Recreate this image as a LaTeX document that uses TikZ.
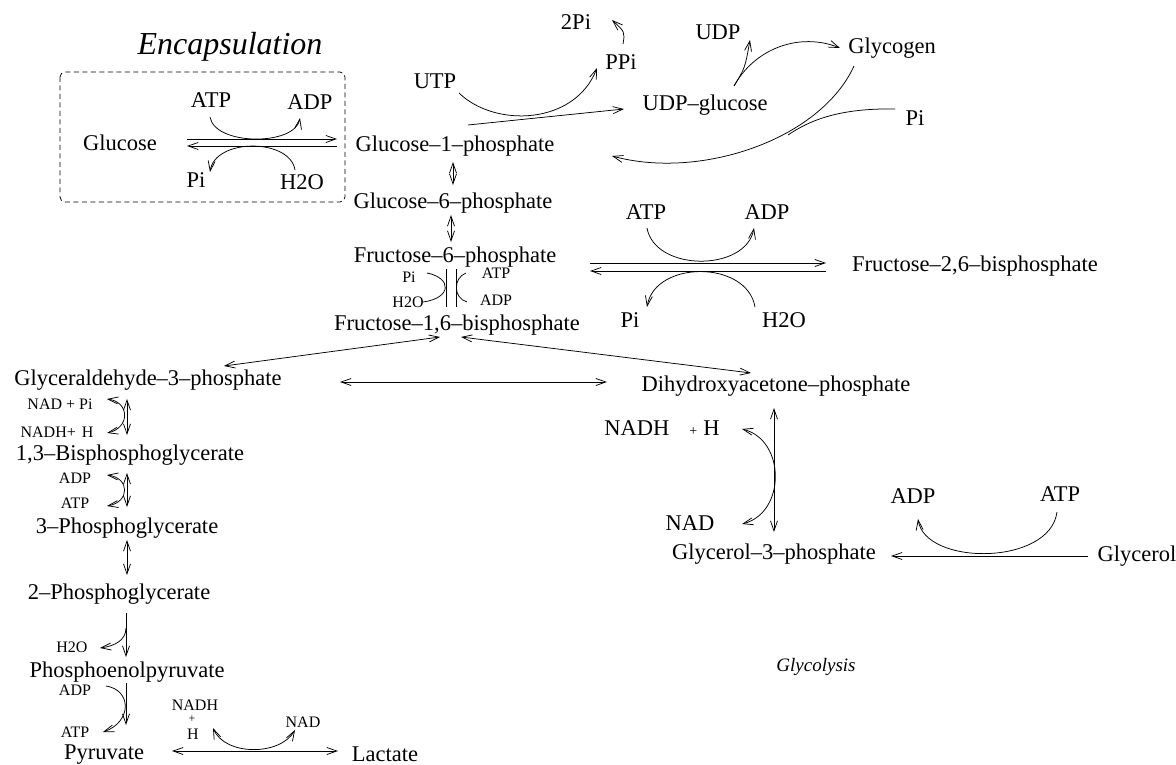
\documentclass[tikz,border=0pt]{standalone}
\usepackage{fontspec}
\setmainfont{Liberation Serif}
\usetikzlibrary{arrows.meta}
\begin{document}
\begin{tikzpicture}[x=1pt,y=-1pt,
  big/.style={inner sep=0pt,font=\fontsize{22.5}{26}\selectfont},
  sml/.style={inner sep=0pt,font=\fontsize{16}{18}\selectfont},
  conn/.style={line width=0.75pt},
  >={Straight Barb[length=10pt,width=7pt]}]
\useasboundingbox (0,0) rectangle (1176,765);

% ---------------- texts ----------------
\node[inner sep=0pt,anchor=base,font=\fontsize{32}{36}\selectfont\itshape] (enc) at (230,55) {Encapsulation};
\node[big] (glc) at (120,143) {Glucose};
\node[big] (atpA) at (211,100) {ATP};
\node[big] (adpA) at (310,102) {ADP};
\node[big] (piA) at (196,180) {Pi};
\node[big] (h2oA) at (302,182) {H2O};
\node[big] (g1p) at (455,146) {Glucose--1--phosphate};
\node[big] (g6p) at (453,203) {Glucose--6--phosphate};
\node[big] (f6p) at (455,257) {Fructose--6--phosphate};
\node[big] (f16) at (457,325) {Fructose--1,6--bisphosphate};
\node[sml] (piB) at (409,277) {Pi};
\node[sml] (h2oB) at (408,302) {H2O};
\node[sml] (atpB) at (496,273) {ATP};
\node[sml] (adpB) at (496,300) {ADP};
\node[big] (f26) at (975,266) {Fructose--2,6--bisphosphate};
\node[big] (atpC) at (646,212) {ATP};
\node[big] (adpC) at (767,212) {ADP};
\node[big] (piC) at (630,320) {Pi};
\node[big] (h2oC) at (784,320) {H2O};
\node[big] (utp) at (435,81) {UTP};
\node[big] (ppi) at (621,62) {PPi};
\node[big] (twopi) at (576,22) {2Pi};
\node[big] (udp) at (718,32) {UDP};
\node[big] (glyc) at (892,48) {Glycogen};
\node[big] (udpg) at (705,105) {UDP--glucose};
\node[big] (piD) at (915,118) {Pi};
\node[big] (g3p) at (148,380) {Glyceraldehyde--3--phosphate};
\node[big] (dhap) at (776,386) {Dihydroxyacetone--phosphate};
\node[sml] (nadpi) at (60,404) {NAD + Pi};
\node[sml] (nadhh) at (57,432) {NADH+\hspace{6pt}H};
\node[big] (bpg) at (130,455) {1,3--Bisphosphoglycerate};
\node[sml] (adpL1) at (75,478) {ADP};
\node[sml] (atpL1) at (75,503) {ATP};
\node[big] (pg3) at (127,528) {3--Phosphoglycerate};
\node[big] (pg2) at (119,594) {2--Phosphoglycerate};
\node[sml] (h2oL) at (72,647) {H2O};
\node[big] (pep) at (127,672) {Phosphoenolpyruvate};
\node[sml] (adpL2) at (75,690) {ADP};
\node[sml] (atpL2) at (75,732) {ATP};
\node[big] (pyr) at (104,755) {Pyruvate};
\node[sml] (nadhS) at (195,705) {NADH};
\node[inner sep=0pt,font=\fontsize{12}{12}\selectfont] (plusS) at (192,719) {+};
\node[sml] (hS) at (193,734) {H};
\node[sml] (nadS) at (303,722) {NAD};
\node[big] (lac) at (385,754) {Lactate};
\node[big] (nadhR) at (662,428) {NADH\hspace{20pt}{\fontsize{14}{14}\selectfont +}\hspace{6pt}H};
\node[big] (nadR) at (690,523) {NAD};
\node[big] (g3pp) at (774,554) {Glycerol--3--phosphate};
\node[big] (glycerol) at (1137,556) {Glycerol};
\node[big] (adpE) at (913,496) {ADP};
\node[big] (atpE) at (1060,494) {ATP};
\node[inner sep=0pt,font=\fontsize{19}{22}\selectfont\itshape] (glycolysis) at (816,667) {Glycolysis};

% ---------------- encapsulation box ----------------
\draw[line width=0.75pt,dash pattern=on 5pt off 3.5pt,rounded corners=5pt] (60,72) rectangle (345,202);

% ---------------- coordinates ----------------
\coordinate (gA1) at (187,139); \coordinate (gA2) at (337,139);
\coordinate (gB1) at (337,146); \coordinate (gB2) at (187,146);
\coordinate (cA1) at (210,117); \coordinate (cA2) at (300,118);
\coordinate (cB1) at (295,170); \coordinate (cB2) at (210,172);

\coordinate (v1a) at (453,162); \coordinate (v1b) at (453,185);
\coordinate (v2a) at (451,215); \coordinate (v2b) at (451,242);
\coordinate (vl1) at (446,269); \coordinate (vl2) at (446,307);
\coordinate (vr1) at (456,269); \coordinate (vr2) at (456,307);
\coordinate (fl1) at (427,273); \coordinate (fl2) at (423,302);
\coordinate (fr1) at (466,273); \coordinate (fr2) at (467,302);

\coordinate (hA1) at (590,263); \coordinate (hA2) at (826,263);
\coordinate (hB1) at (826,271); \coordinate (hB2) at (590,271);
\coordinate (cC1) at (647,228); \coordinate (cC2) at (754,228);
\coordinate (cD1) at (755,307); \coordinate (cD2) at (647,307);

\coordinate (pp1) at (623,44); \coordinate (pp2) at (612,20);
\coordinate (ut1) at (459,93); \coordinate (ut2) at (597,68);
\coordinate (ug1) at (468,125); \coordinate (ug2) at (624,109);
\coordinate (gy0) at (734,86); \coordinate (gy1) at (840,48); \coordinate (ud1) at (750,40);
\coordinate (gl1) at (854,66); \coordinate (gl2) at (612,156);
\coordinate (pj1) at (895,109); \coordinate (pj2) at (788,135);

\coordinate (fa1) at (440,337); \coordinate (fa2) at (224,366);
\coordinate (fb1) at (461,337); \coordinate (fb2) at (751,373);
\coordinate (ga1) at (340,382); \coordinate (ga2) at (607,382);

\coordinate (l1a) at (127,399); \coordinate (l1b) at (127,435);
\coordinate (k1a) at (107,399); \coordinate (k1b) at (107,433);
\coordinate (l2a) at (127,473); \coordinate (l2b) at (127,507);
\coordinate (k2a) at (107,475); \coordinate (k2b) at (107,506);
\coordinate (l3a) at (127,540); \coordinate (l3b) at (127,575);
\coordinate (l4a) at (126,613); \coordinate (l4b) at (126,657);
\coordinate (k4a) at (126,628); \coordinate (k4b) at (100,648);
\coordinate (l5a) at (126,683); \coordinate (l5b) at (126,725);
\coordinate (k5a) at (106,686); \coordinate (k5b) at (103,732);
\coordinate (pl1) at (172,751); \coordinate (pl2) at (338,751);
\coordinate (kp1) at (213,728); \coordinate (kp2) at (295,730);

\coordinate (dv1) at (774,408); \coordinate (dv2) at (774,532);
\coordinate (dk1) at (742,429); \coordinate (dk2) at (742,524);
\coordinate (gr1) at (1088,556); \coordinate (gr2) at (891,556);
\coordinate (ge1) at (1057,512); \coordinate (ge2) at (918,519);

% ---------------- connectors ----------------
% glucose <-> glucose-1-phosphate
\draw[conn,->] (gA1) -- (gA2);
\draw[conn,->] (gB1) -- (gB2);
\draw[conn,->] (cA1) .. controls (215,146) and (295,146) .. (cA2);
\draw[conn,->] (cB1) .. controls (290,138) and (215,138) .. (cB2);

% G1P <-> G6P <-> F6P
\draw[conn,<->] (v1a) -- (v1b);
\draw[conn,<->] (v2a) -- (v2b);
% F6P <-> F16BP
\draw[conn] (vl1) -- (vl2);
\draw[conn] (vr1) -- (vr2);
\draw[conn] (fl1) .. controls (452,278) and (452,298) .. (fl2);
\draw[conn] (fr1) .. controls (453,278) and (453,298) .. (fr2);

% F6P <-> F26BP
\draw[conn,->] (hA1) -- (hA2);
\draw[conn,->] (hB1) -- (hB2);
\draw[conn,->] (cC1) .. controls (655,272) and (746,272) .. (cC2);
\draw[conn,->] (cD1) .. controls (747,260) and (655,260) .. (cD2);

% glycogen branch
\draw[conn,->] (pp1) .. controls (625,32) .. (pp2);
\draw[conn,->] (ut1) .. controls (495,128) and (575,125) .. (ut2);
\draw[conn,->] (ug1) -- (ug2);
\draw[conn,->] (gy0) .. controls (755,48) and (800,32) .. (gy1);
\draw[conn,->] (gy0) .. controls (745,68) .. (ud1);
\draw[conn,->] (gl1) .. controls (820,140) and (700,180) .. (gl2);
\draw[conn] (pj1) .. controls (840,108) and (810,120) .. (pj2);

% F16BP split
\draw[conn,<->] (fa1) -- (fa2);
\draw[conn,<->] (fb1) -- (fb2);
\draw[conn,<->] (ga1) -- (ga2);

% lower glycolysis
\draw[conn,<->] (l1a) -- (l1b);
\draw[conn,<->] (k1a) .. controls (130,402) and (130,428) .. (k1b);
\draw[conn,<->] (l2a) -- (l2b);
\draw[conn,<->] (k2a) .. controls (130,478) and (130,502) .. (k2b);
\draw[conn,<->] (l3a) -- (l3b);
\draw[conn,->] (l4a) -- (l4b);
\draw[conn,->] (k4a) .. controls (126,640) and (115,646) .. (k4b);
\draw[conn,->] (l5a) -- (l5b);
\draw[conn,->] (k5a) .. controls (132,690) and (132,722) .. (k5b);
\draw[conn,<->] (pl1) -- (pl2);
\draw[conn,<->] (kp1) .. controls (225,756) and (280,756) .. (kp2);

% DHAP <-> glycerol-3-phosphate
\draw[conn,<->] (dv1) -- (dv2);
\draw[conn,<->] (dk1) .. controls (786,440) and (786,513) .. (dk2);
\draw[conn,->] (gr1) -- (gr2);
\draw[conn,->] (ge1) .. controls (1050,566) and (925,566) .. (ge2);
\end{tikzpicture}
\end{document}
